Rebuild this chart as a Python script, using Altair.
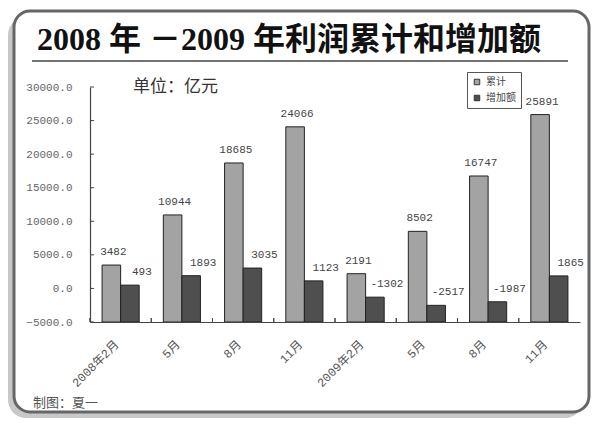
import json
import altair as alt
import pandas as pd

# ---- data ----
periods = ["2008年2月", "5月", "8月", "11月", "2009年2月", "5月", "8月", "11月"]
cumulative = [3482, 10944, 18685, 24066, 2191, 8502, 16747, 25891]
increase = [493, 1893, 3035, 1123, -1302, -2517, -1987, 1865]
series = ["累计", "增加额"]
y_ticks = [-5000, 0, 5000, 10000, 15000, 20000, 25000, 30000]
title_text = "2008 年 －2009 年利润累计和增加额"
unit_text = "单位：亿元"
credit_text = "制图：夏一"

rows = []
for i, p in enumerate(periods):
    rows.append({"idx": i, "series": series[0], "value": cumulative[i]})
    rows.append({"idx": i, "series": series[1], "value": increase[i]})
df = pd.DataFrame(rows)
df["label"] = df["value"].astype(str)
tick_df = pd.DataFrame({"value": y_ticks})

label_expr = json.dumps(periods, ensure_ascii=False) + "[datum.value]"
MONO = "Liberation Mono, Noto Sans CJK SC"
CJK = "Noto Sans CJK SC"
W, H = 490, 235

x_axis = alt.Axis(labelExpr=label_expr, labelAngle=-45, labelAlign="right",
                  labelBaseline="middle", labelPadding=20, labelOffset=-4,
                  ticks=False, domainColor="#444", domainWidth=1.2,
                  labelFont=MONO, labelFontSize=12, labelColor="#555",
                  title=None, zindex=1)
y_axis = alt.Axis(values=y_ticks, format=".1f", grid=False, ticks=False,
                  labelPadding=18, domainColor="#444", domainWidth=1.2,
                  labelFont=MONO, labelFontSize=11, labelColor="#666",
                  title=None, zindex=1)
x_scale = alt.Scale(paddingInner=0, paddingOuter=0)
y_scale = alt.Scale(domain=[-5000, 30000], nice=False, zero=False)

x_enc = alt.X("idx:O", scale=x_scale, axis=x_axis)
xo_enc = alt.XOffset("series:N", sort=series,
                     scale=alt.Scale(domain=series, paddingOuter=0.65, paddingInner=0))
y_enc = alt.Y("value:Q", scale=y_scale, axis=y_axis)

one = alt.Data(values=[{}])

shadow = alt.Chart(one).mark_rect(cornerRadius=18, fill="#c8c8c8").encode(
    x=alt.value(-82), x2=alt.value(493), y=alt.value(-70), y2=alt.value(331))
frame = alt.Chart(one).mark_rect(cornerRadius=16, fill="white", stroke="#666",
                                 strokeWidth=3).encode(
    x=alt.value(-76), x2=alt.value(499), y=alt.value(-76), y2=alt.value(325))
underline = alt.Chart(one).mark_rule(color="#444", strokeWidth=1.5).encode(
    x=alt.value(-58), x2=alt.value(478), y=alt.value(-26))
title = alt.Chart(one).mark_text(text=title_text, font="Liberation Serif, Noto Sans CJK SC",
                                 fontSize=32, fontWeight="bold", color="#111",
                                 align="center", baseline="alphabetic").encode(
    x=alt.value(199), y=alt.value(-37))
unit = alt.Chart(one).mark_text(text=unit_text, font=CJK, fontSize=17, color="#333",
                                align="left", baseline="middle").encode(
    x=alt.value(43), y=alt.value(0))
credit = alt.Chart(one).mark_text(text=credit_text, font=CJK, fontSize=13, color="#555",
                                  align="left", baseline="middle").encode(
    x=alt.value(-57), y=alt.value(316))

bars = alt.Chart(df).mark_bar(stroke="#222", strokeWidth=1).encode(
    x=x_enc, xOffset=xo_enc, y=y_enc, y2=alt.datum(-5000),
    fill=alt.Fill("series:N", sort=series,
                  scale=alt.Scale(domain=series, range=["#a3a3a3", "#4f4f4f"]),
                  legend=alt.Legend(title=None, orient="none", legendX=377, legendY=-15,
                                    strokeColor="#555", padding=5, symbolType="square",
                                    symbolSize=30, symbolStrokeColor="#333",
                                    symbolStrokeWidth=1, labelFont=CJK, labelFontSize=10,
                                    labelColor="#444", rowPadding=6, labelOffset=4)))

lab_cum = alt.Chart(df).transform_filter(alt.datum.series == series[0]).mark_text(
    font=MONO, fontSize=11, color="#444", dy=-13, dx=2, baseline="middle").encode(
    x=x_enc, xOffset=xo_enc, y=y_enc, text=alt.Text("label:N"))
lab_inc = alt.Chart(df).transform_filter(alt.datum.series == series[1]).mark_text(
    font=MONO, fontSize=11, color="#444", dy=-13, dx=12, baseline="middle").encode(
    x=x_enc, xOffset=xo_enc, y=y_enc, text=alt.Text("label:N"))

ytick = alt.Chart(tick_df).mark_rule(color="#444").encode(
    y=y_enc, x=alt.value(0), x2=alt.value(4))
xtick = alt.Chart(df).mark_rule(color="#444").encode(
    x=alt.X("idx:O", bandPosition=0, scale=x_scale, axis=x_axis),
    y=alt.value(H), y2=alt.value(H - 4))

chart = alt.layer(shadow, frame, underline, title, unit, credit,
                  bars, lab_cum, lab_inc, ytick, xtick).properties(
    width=W, height=H,
    autosize=alt.AutoSizeParams(type="none"),
    padding={"left": 82, "top": 79, "right": 12, "bottom": 98},
).configure_view(stroke=None).configure(background="white")

chart.save("out.html", embed_options={"renderer": "svg", "actions": False})
